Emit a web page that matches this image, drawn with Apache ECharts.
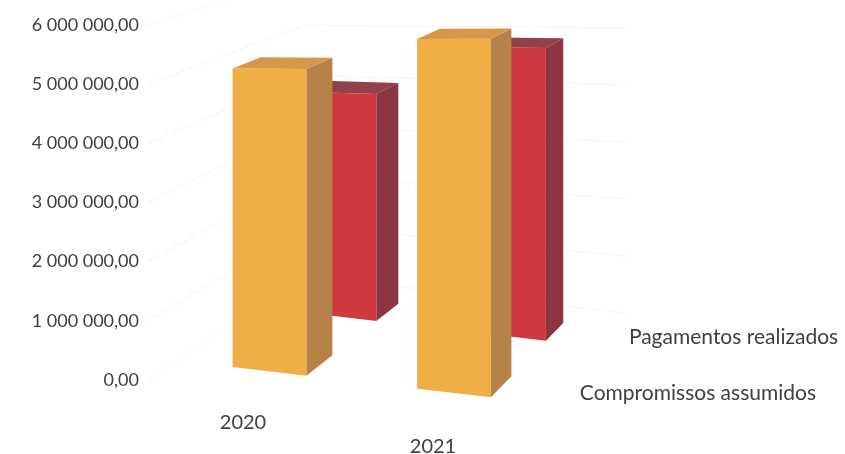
<!DOCTYPE html>
<html>
<head>
<meta charset="utf-8">
<script src="https://cdn.jsdelivr.net/npm/echarts@6/dist/echarts.min.js"></script>
<style>
  html, body { margin: 0; padding: 0; background: #ffffff; }
  #chart { width: 845px; height: 454px; }
</style>
</head>
<body>
<div id="chart"></div>
<script>
// ---- data ----
const categories = ['2020', '2021'];
const seriesNames = ['Compromissos assumidos', 'Pagamentos realizados'];
const compromissos = [5090000, 5580000];
const pagamentos = [4100000, 4960000];
const yTicks = [0, 1000000, 2000000, 3000000, 4000000, 5000000, 6000000];

// ---- pseudo-3D projection (style parameters) ----
const VPX = 1170, VPY = -300;   // depth vanishing point
const YH = 60;                  // horizon for the front plane rotation
const KAP = 0.000365;           // rotation strength (right side nearer)
const FOC = 1000;               // depth focal length
const SLOT = 90.7, BAR_DEPTH = 32, BAR_RATIO = 0.4;
const WALL_Z = SLOT * 2;

function proj(X, Y, Z, xr) {
  const s1 = 1 + KAP * (X - xr);
  const y1 = YH + (Y - YH) * s1;
  const q = Z / (FOC + Z);
  return [X + (VPX - X) * q, y1 + (VPY - y1) * q];
}

function fmt(v) {
  return Math.round(v).toString().replace(/\B(?=(\d{3})+(?!\d))/g, ' ') + ',00';
}

const FONT = 'Lato, "Open Sans", sans-serif';
const TEXT = '#404040';

function barRenderer(row, colors) {
  return function (params, api) {
    const ci = api.value(0), v = api.value(1);
    const band = api.size([1, 0])[0];
    const xr = api.coord([0, 0])[0] - band / 2;
    const base = api.coord([ci, 0]);
    const top = api.coord([ci, v]);
    const w = band * BAR_RATIO;
    const XL = base[0] - w / 2, XR = base[0] + w / 2;
    const Y0 = base[1], Y1 = top[1];
    const z0 = SLOT * row + (SLOT - BAR_DEPTH) / 2, z1 = z0 + BAR_DEPTH;
    const P = (X, Y, Z) => proj(X, Y, Z, xr);
    return {
      type: 'group',
      children: [
        { type: 'polygon', shape: { points: [P(XR, Y0, z0), P(XR, Y0, z1), P(XR, Y1, z1), P(XR, Y1, z0)] },
          style: { fill: colors.side } },
        { type: 'polygon', shape: { points: [P(XL, Y1, z0), P(XR, Y1, z0), P(XR, Y1, z1), P(XL, Y1, z1)] },
          style: { fill: colors.top } },
        { type: 'polygon', shape: { points: [P(XL, Y0, z0), P(XR, Y0, z0), P(XR, Y1, z0), P(XL, Y1, z0)] },
          style: { fill: colors.front } }
      ]
    };
  };
}

function wallRenderer(params, api) {
  const v = api.value(1);
  const band = api.size([1, 0])[0];
  const xr = api.coord([0, 0])[0] - band / 2;
  const xe = xr + band * categories.length;
  const y = api.coord([0, v])[1];
  const a = proj(xr, y, 0, xr), b = proj(xr, y, WALL_Z, xr), c = proj(xe, y, WALL_Z, xr);
  return {
    type: 'polyline',
    shape: { points: [a, b, c] },
    style: { stroke: '#f3f3f3', lineWidth: 1, fill: null }
  };
}

function catLabelRenderer(params, api) {
  const ci = api.value(0);
  const band = api.size([1, 0])[0];
  const xr = api.coord([0, 0])[0] - band / 2;
  const base = api.coord([ci, 0]);
  const p = proj(base[0], base[1] + 30, 0, xr);
  return {
    type: 'text', x: p[0], y: p[1],
    style: { text: categories[ci], fill: TEXT, font: '20px ' + FONT, align: 'center', verticalAlign: 'middle' }
  };
}

function depthLabelRenderer(params, api) {
  const row = params.dataIndex;
  const band = api.size([1, 0])[0];
  const xr = api.coord([0, 0])[0] - band / 2;
  const xe = xr + band * categories.length;
  const y0 = api.coord([0, 0])[1];
  const p = proj(xe, y0, SLOT * row + SLOT / 2, xr);
  return {
    type: 'text', x: p[0] + 24, y: p[1],
    style: { text: seriesNames[row], fill: TEXT, font: '21px ' + FONT, align: 'left', verticalAlign: 'middle' }
  };
}

const chart = echarts.init(document.getElementById('chart'), null, { renderer: 'canvas' });
chart.setOption({
  animation: false,
  backgroundColor: '#ffffff',
  grid: { left: 148, right: 317, top: 25, bottom: 74, containLabel: false },
  xAxis: {
    type: 'category', data: categories,
    axisLine: { show: false }, axisTick: { show: false }, axisLabel: { show: false }, splitLine: { show: false }
  },
  yAxis: {
    type: 'value', min: 0, max: 6000000, interval: 1000000,
    axisLine: { show: false }, axisTick: { show: false }, splitLine: { show: false },
    axisLabel: { formatter: fmt, color: TEXT, fontFamily: 'Lato', fontSize: 18, margin: 9 }
  },
  series: [
    { type: 'custom', name: 'walls', renderItem: wallRenderer, silent: true,
      data: yTicks.map(v => [categories[0], v]) },
    { type: 'custom', name: seriesNames[1], renderItem: barRenderer(1, { front: '#CF3A40', side: '#8A3742', top: '#93404A' }),
      data: categories.map((c, i) => [c, pagamentos[i]]) },
    { type: 'custom', name: seriesNames[0], renderItem: barRenderer(0, { front: '#F0AE46', side: '#B7824A', top: '#D69749' }),
      data: categories.map((c, i) => [c, compromissos[i]]) },
    { type: 'custom', name: 'categoryLabels', renderItem: catLabelRenderer, silent: true,
      data: categories.map(c => [c, 0]) },
    { type: 'custom', name: 'depthLabels', renderItem: depthLabelRenderer, silent: true,
      data: seriesNames.map(() => [categories[categories.length - 1], 0]) }
  ]
});
</script>
</body>
</html>
